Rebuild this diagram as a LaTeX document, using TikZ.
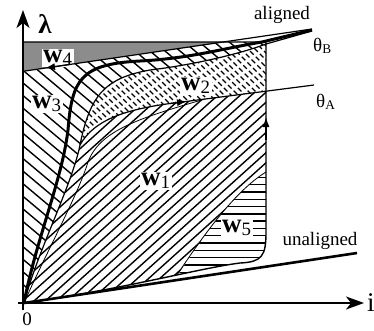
\documentclass[tikz,border=0pt]{standalone}
\usepackage{fontspec}
\setmainfont{Liberation Serif}
\usetikzlibrary{arrows.meta}

\newcommand{\wlab}[1]{\textbf{w}\textsubscript{#1}}

% region outlines (x right, y down, 1pt = 1px)
\def\pathWone{(24,303) .. controls (38,250) and (72,185) .. (80,145) .. controls (95,118) and (130,108) .. (182,102) -- (266,91.2) -- (266,232) .. controls (266,256) and (262,262) .. (240,263) .. controls (200,268) and (120,290) .. (24,303) -- cycle}
\def\pathWtwo{(80,145) .. controls (90,95) and (105,78) .. (150,70) .. controls (200,64) and (245,52) .. (266,44) -- (266,91.2) -- (182,102) .. controls (130,108) and (95,118) .. (80,145) -- cycle}
\def\pathWthree{(24,303) .. controls (38,250) and (72,185) .. (80,145) .. controls (90,95) and (105,78) .. (150,70) .. controls (200,64) and (245,52) .. (266,44) -- (266,42) -- (23,42) -- (23,303) -- cycle}
\def\pathWfour{(23,42) -- (223,42) -- (23,71.3) -- cycle}
\def\pathWfive{(266,172) .. controls (240,188) and (212,222) .. (176,278) -- (176,320) -- (300,320) -- (300,172) -- cycle}

\begin{document}
\begin{tikzpicture}[x=1pt, y=-1pt,
    axis/.style={line width=1.6pt, -{Stealth[length=18pt, width=13pt, inset=5pt]}},
    envelope/.style={line width=1.4pt},
    thetaline/.style={line width=1.2pt},
    alignedline/.style={line width=3pt},
    trajline/.style={line width=0.8pt},
    hatchline/.style={line width=1.4pt},
    dashfill/.style={line width=1.4pt, dash pattern=on 5pt off 3pt},
    flow/.style={line width=1.2pt, -{Latex[length=10pt, width=7pt]}},
    wlabel/.style={font=\fontsize{27}{27}\selectfont, fill=white, inner sep=1pt, anchor=base west},
    tlabel/.style={font=\fontsize{19}{21}\selectfont, anchor=base}
  ]
  \useasboundingbox (0,0) rectangle (374,330);

  \coordinate (O) at (24,303);

  % --- W3: left of theta_B ---
  \begin{scope}
    \clip \pathWthree;
    \foreach \i in {0,...,40}
      \draw[hatchline] (\i*15-340,30) -- ++(400,336);
  \end{scope}

  % --- W2: between theta_B and theta_A ---
  \begin{scope}
    \clip \pathWtwo;
    \foreach \i [evaluate=\i as \ph using {mod(\i,2)*4}] in {0,...,52}
      \draw[dashfill, dash phase=\ph pt] (\i*7-110,20) -- ++(150,150);
  \end{scope}

  % --- W1: below theta_A ---
  \begin{scope}
    \clip \pathWone;
    \foreach \i in {0,...,42}
      \draw[hatchline] (\i*11.2-200,310) -- ++(400,-360);
  \end{scope}

  % --- W5: lower right corner ---
  \begin{scope}
    \clip \pathWone;
    \fill[white] \pathWfive;
    \clip \pathWfive;
    \foreach \i in {0,...,20}
      \draw[hatchline] (170,170+\i*7.3) -- (270,170+\i*7.3);
  \end{scope}

  % --- W4: top wedge ---
  \fill[black!45] \pathWfour;

  % --- region labels ---
  \node[wlabel] (w1) at (140,185) {\wlab{1}};
  \node[wlabel] (w2) at (180,90) {\wlab{2}};
  \node[wlabel] (w3) at (31,108) {\wlab{3}};
  \node[wlabel] (w4) at (42,62) {\wlab{4}};
  \node[wlabel] (w5) at (221,232) {\wlab{5}};

  % --- curves ---
  \draw[envelope] (23,42) -- (266,42) -- (266,232) .. controls (266,256) and (262,262) .. (240,263) .. controls (200,268) and (120,290) .. (O);
  \draw[thetaline] (O) .. controls (38,250) and (72,185) .. (80,145) .. controls (90,95) and (105,78) .. (150,70) .. controls (200,64) and (245,52) .. (266,44) -- (312,31);
  \draw[thetaline] (80,145) .. controls (95,118) and (130,108) .. (182,102) -- (314,85);
  \draw[thetaline] (23,71.3) -- (312,29);
  \draw[trajline] (O) .. controls (45,255) and (78,195) .. (88,162) .. controls (100,130) and (140,118) .. (205,99);
  \draw[trajline] (266,172) .. controls (240,188) and (212,222) .. (177,275);
  \draw[alignedline] (O) .. controls (36,240) and (62,180) .. (68,130) .. controls (72,80) and (80,64) .. (140,61) .. controls (190,58.5) and (225,48) .. (262,42) -- (312,30);
  \draw[alignedline, line width=2.6pt] (O) -- (357,253);

  % --- flow arrows ---
  \draw[flow] (170,103.5) -- (187,101.4);
  \draw[flow] (266,140) -- (266,117);
  \draw[flow] (70,64.4) -- (45,68.1);

  % --- axes ---
  \draw[axis] (18,303) -- (364,303);
  \draw[axis] (23,310) -- (23,10);

  % --- texts ---
  \node[tlabel, font=\fontsize{27}{27}\selectfont\bfseries] (lambda) at (45,33) {λ};
  \node[tlabel] (zero) at (27,325) {0};
  \node[font=\fontsize{27}{27}\selectfont, anchor=base west, inner sep=0pt] (iaxis) at (367,311) {i};
  \node[tlabel] (alignedtext) at (282,19) {aligned};
  \node[tlabel] (unalignedtext) at (320,245) {unaligned};
  \node[tlabel, anchor=base west, inner sep=0pt] (thetaB) at (313,51) {θ\textsubscript{B}};
  \node[tlabel, anchor=base west, inner sep=0pt] (thetaA) at (316,107) {θ\textsubscript{A}};

\end{tikzpicture}
\end{document}
